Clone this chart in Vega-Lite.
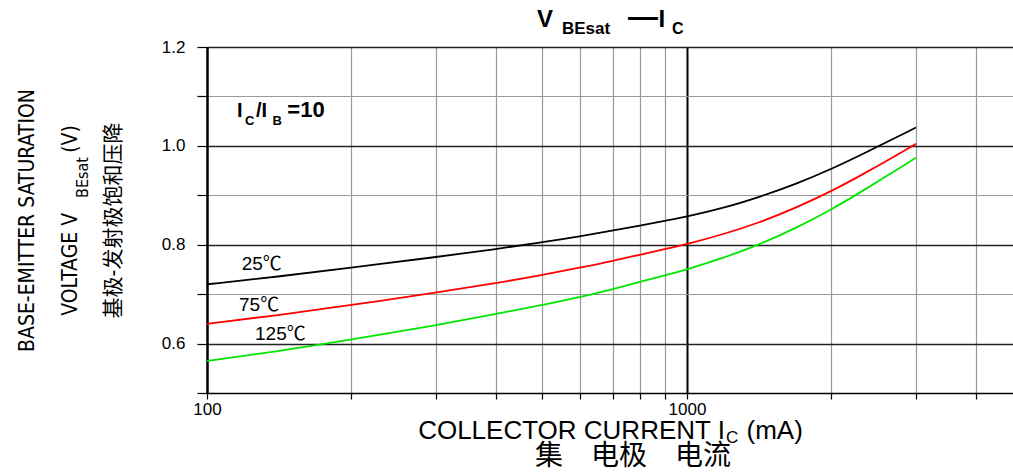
{
  "$schema": "https://vega.github.io/schema/vega-lite/v6.json",
  "autosize": {"type": "none"},
  "padding": {"left": 207, "top": 47, "right": 0, "bottom": 80},
  "width": 806,
  "height": 346,
  "background": "white",
  "config": {"view": {"stroke": null}},
  "datasets": {
    "curves": [
      {"ic": 100, "v": 0.720, "t": "25℃"},
      {"ic": 140, "v": 0.735, "t": "25℃"},
      {"ic": 200, "v": 0.754, "t": "25℃"},
      {"ic": 300, "v": 0.775, "t": "25℃"},
      {"ic": 400, "v": 0.791, "t": "25℃"},
      {"ic": 500, "v": 0.805, "t": "25℃"},
      {"ic": 600, "v": 0.817, "t": "25℃"},
      {"ic": 700, "v": 0.829, "t": "25℃"},
      {"ic": 800, "v": 0.839, "t": "25℃"},
      {"ic": 900, "v": 0.848, "t": "25℃"},
      {"ic": 1000, "v": 0.857, "t": "25℃"},
      {"ic": 1190, "v": 0.874, "t": "25℃"},
      {"ic": 1420, "v": 0.897, "t": "25℃"},
      {"ic": 1690, "v": 0.923, "t": "25℃"},
      {"ic": 2000, "v": 0.953, "t": "25℃"},
      {"ic": 2365, "v": 0.987, "t": "25℃"},
      {"ic": 3000, "v": 1.037, "t": "25℃"},
      {"ic": 100, "v": 0.640, "t": "75℃"},
      {"ic": 140, "v": 0.657, "t": "75℃"},
      {"ic": 200, "v": 0.678, "t": "75℃"},
      {"ic": 300, "v": 0.703, "t": "75℃"},
      {"ic": 400, "v": 0.722, "t": "75℃"},
      {"ic": 500, "v": 0.739, "t": "75℃"},
      {"ic": 600, "v": 0.754, "t": "75℃"},
      {"ic": 700, "v": 0.767, "t": "75℃"},
      {"ic": 800, "v": 0.780, "t": "75℃"},
      {"ic": 900, "v": 0.791, "t": "75℃"},
      {"ic": 1000, "v": 0.801, "t": "75℃"},
      {"ic": 1190, "v": 0.821, "t": "75℃"},
      {"ic": 1420, "v": 0.845, "t": "75℃"},
      {"ic": 1690, "v": 0.875, "t": "75℃"},
      {"ic": 2000, "v": 0.908, "t": "75℃"},
      {"ic": 2365, "v": 0.946, "t": "75℃"},
      {"ic": 3000, "v": 1.004, "t": "75℃"},
      {"ic": 100, "v": 0.565, "t": "125℃"},
      {"ic": 140, "v": 0.584, "t": "125℃"},
      {"ic": 200, "v": 0.608, "t": "125℃"},
      {"ic": 300, "v": 0.637, "t": "125℃"},
      {"ic": 400, "v": 0.660, "t": "125℃"},
      {"ic": 500, "v": 0.678, "t": "125℃"},
      {"ic": 600, "v": 0.694, "t": "125℃"},
      {"ic": 700, "v": 0.710, "t": "125℃"},
      {"ic": 800, "v": 0.725, "t": "125℃"},
      {"ic": 900, "v": 0.738, "t": "125℃"},
      {"ic": 1000, "v": 0.750, "t": "125℃"},
      {"ic": 1190, "v": 0.773, "t": "125℃"},
      {"ic": 1420, "v": 0.801, "t": "125℃"},
      {"ic": 1690, "v": 0.834, "t": "125℃"},
      {"ic": 2000, "v": 0.871, "t": "125℃"},
      {"ic": 2365, "v": 0.913, "t": "125℃"},
      {"ic": 3000, "v": 0.976, "t": "125℃"}
    ],
    "curveLabels": [
      {"ic": 118.1, "v": 0.749, "label": "25℃"},
      {"ic": 116.6, "v": 0.666, "label": "75℃"},
      {"ic": 125.9, "v": 0.607, "label": "125℃"}
    ]
  },
  "layer": [
    {
      "data": {"name": "curves"},
      "mark": {"type": "line", "strokeWidth": 1.8, "interpolate": "basis", "clip": true},
      "encoding": {
        "x": {
          "field": "ic", "type": "quantitative",
          "scale": {"type": "log", "domain": [100, 4780], "nice": false},
          "axis": {
            "values": [100, 200, 300, 400, 500, 600, 700, 800, 900, 1000, 2000, 3000, 4000],
            "labelExpr": "(datum.value == 100 || datum.value == 1000) ? '' + datum.value : ''",
            "labelFont": "Liberation Sans", "labelFontSize": 17, "labelColor": "black",
            "labelFlush": false, "labelOverlap": false, "labelPadding": 2,
            "tickSize": 6, "tickColor": "black", "tickWidth": 1.2,
            "domainColor": "black", "domainWidth": 1.5,
            "grid": true,
            "gridColor": {"condition": {"test": "datum.value == 1000", "value": "black"}, "value": "#9a9a9a"},
            "gridWidth": {"condition": {"test": "datum.value == 1000", "value": 2}, "value": 1.2},
            "gridOpacity": 1,
            "title": "COLLECTOR CURRENT I\u00a0\u00a0\u00a0(mA)",
            "titleFont": "Liberation Sans", "titleFontSize": 26, "titleFontWeight": "normal",
            "titleColor": "black", "titlePadding": 0
          }
        },
        "y": {
          "field": "v", "type": "quantitative",
          "scale": {"domain": [0.5, 1.2], "nice": false, "zero": false},
          "axis": {
            "values": [0.5, 0.6, 0.7, 0.8, 0.9, 1.0, 1.1, 1.2],
            "labelExpr": "round(datum.value * 10) % 2 == 0 ? format(datum.value, '.1f') : ''",
            "labelFont": "Liberation Sans", "labelFontSize": 17, "labelColor": "black",
            "labelFlush": false, "labelOverlap": false, "labelPadding": 12,
            "tickSize": 10, "tickColor": "black", "tickWidth": 1.2,
            "domainColor": "black", "domainWidth": 2.5,
            "grid": true,
            "gridColor": {"condition": {"test": "round(datum.value * 10) % 2 == 0", "value": "#222222"}, "value": "#9a9a9a"},
            "gridWidth": {"condition": {"test": "round(datum.value * 10) % 2 == 0", "value": 1.5}, "value": 1.2},
            "gridOpacity": 1,
            "title": ["BASE-EMITTER SATURATION", "VOLTAGE V\u00a0\u00a0\u00a0\u00a0\u00a0\u00a0\u00a0\u00a0\u00a0\u00a0(V)", "基极-发射极饱和压降"],
            "titleFont": "DejaVu Sans Condensed, Liberation Sans, Noto Sans CJK SC", "titleFontSize": 21, "titleFontWeight": "normal",
            "titleColor": "black", "titleLineHeight": 43, "titlePadding": 38
          }
        },
        "color": {
          "field": "t", "type": "nominal",
          "scale": {"domain": ["25℃", "75℃", "125℃"], "range": ["#000000", "#ff0000", "#00e600"]},
          "legend": null
        }
      }
    },
    {
      "data": {"name": "curveLabels"},
      "mark": {"type": "text", "align": "left", "baseline": "alphabetic", "font": "Liberation Sans, Noto Sans CJK SC", "fontSize": 19, "color": "black"},
      "encoding": {
        "x": {"field": "ic", "type": "quantitative"},
        "y": {"field": "v", "type": "quantitative"},
        "text": {"field": "label"}
      }
    },
    {
      "data": {"values": [{}]},
      "mark": {"type": "text", "text": "V", "align": "left", "baseline": "alphabetic", "font": "Liberation Sans", "fontWeight": "bold", "fontSize": 24, "color": "black"},
      "encoding": {"x": {"datum": 486.9, "type": "quantitative"}, "y": {"datum": 1.241, "type": "quantitative"}}
    },
    {
      "data": {"values": [{}]},
      "mark": {"type": "text", "text": "BEsat", "align": "left", "baseline": "alphabetic", "font": "Liberation Sans", "fontWeight": "bold", "fontSize": 17, "color": "black"},
      "encoding": {"x": {"datum": 549, "type": "quantitative"}, "y": {"datum": 1.2257, "type": "quantitative"}}
    },
    {
      "data": {"values": [{}]},
      "mark": {"type": "text", "text": "—", "align": "left", "baseline": "alphabetic", "font": "Liberation Sans", "fontWeight": "bold", "fontSize": 30, "color": "black"},
      "encoding": {"x": {"datum": 753.6, "type": "quantitative"}, "y": {"datum": 1.241, "type": "quantitative"}}
    },
    {
      "data": {"values": [{}]},
      "mark": {"type": "text", "text": "I", "align": "left", "baseline": "alphabetic", "font": "Liberation Sans", "fontWeight": "bold", "fontSize": 24, "color": "black"},
      "encoding": {"x": {"datum": 872, "type": "quantitative"}, "y": {"datum": 1.241, "type": "quantitative"}}
    },
    {
      "data": {"values": [{}]},
      "mark": {"type": "text", "text": "C", "align": "left", "baseline": "alphabetic", "font": "Liberation Sans", "fontWeight": "bold", "fontSize": 16, "color": "black"},
      "encoding": {"x": {"datum": 930.6, "type": "quantitative"}, "y": {"datum": 1.2257, "type": "quantitative"}}
    },
    {
      "data": {"values": [{}]},
      "mark": {"type": "text", "text": "I", "align": "left", "baseline": "alphabetic", "font": "Liberation Sans", "fontWeight": "bold", "fontSize": 20, "color": "black"},
      "encoding": {"x": {"datum": 115.5, "type": "quantitative"}, "y": {"datum": 1.0578, "type": "quantitative"}}
    },
    {
      "data": {"values": [{}]},
      "mark": {"type": "text", "text": "C", "align": "left", "baseline": "alphabetic", "font": "Liberation Sans", "fontWeight": "bold", "fontSize": 13, "color": "black"},
      "encoding": {"x": {"datum": 120, "type": "quantitative"}, "y": {"datum": 1.0422, "type": "quantitative"}}
    },
    {
      "data": {"values": [{}]},
      "mark": {"type": "text", "text": "/I", "align": "left", "baseline": "alphabetic", "font": "Liberation Sans", "fontWeight": "bold", "fontSize": 20, "color": "black"},
      "encoding": {"x": {"datum": 126.5, "type": "quantitative"}, "y": {"datum": 1.0578, "type": "quantitative"}}
    },
    {
      "data": {"values": [{}]},
      "mark": {"type": "text", "text": "B", "align": "left", "baseline": "alphabetic", "font": "Liberation Sans", "fontWeight": "bold", "fontSize": 13, "color": "black"},
      "encoding": {"x": {"datum": 137, "type": "quantitative"}, "y": {"datum": 1.0422, "type": "quantitative"}}
    },
    {
      "data": {"values": [{}]},
      "mark": {"type": "text", "text": "=10", "align": "left", "baseline": "alphabetic", "font": "Liberation Sans", "fontWeight": "bold", "fontSize": 22, "color": "black"},
      "encoding": {"x": {"datum": 147, "type": "quantitative"}, "y": {"datum": 1.0578, "type": "quantitative"}}
    },
    {
      "data": {"values": [{}]},
      "mark": {"type": "text", "text": "BEsat", "align": "center", "baseline": "alphabetic", "angle": 270, "font": "DejaVu Sans Condensed, Liberation Sans", "fontSize": 16, "color": "black"},
      "encoding": {"x": {"datum": 56.5, "type": "quantitative"}, "y": {"datum": 0.936, "type": "quantitative"}}
    },
    {
      "data": {"values": [{}]},
      "mark": {"type": "text", "text": "C", "align": "left", "baseline": "alphabetic", "font": "Liberation Sans", "fontSize": 17, "color": "black"},
      "encoding": {"x": {"datum": 1206, "type": "quantitative"}, "y": {"datum": 0.399, "type": "quantitative"}}
    },
    {
      "data": {"values": [{}]},
      "mark": {"type": "text", "text": "集\u3000电极\u3000电流", "align": "center", "baseline": "alphabetic", "font": "Noto Sans CJK SC", "fontSize": 28, "color": "black"},
      "encoding": {"x": {"datum": 771.8, "type": "quantitative"}, "y": {"datum": 0.354, "type": "quantitative"}}
    }
  ]
}
